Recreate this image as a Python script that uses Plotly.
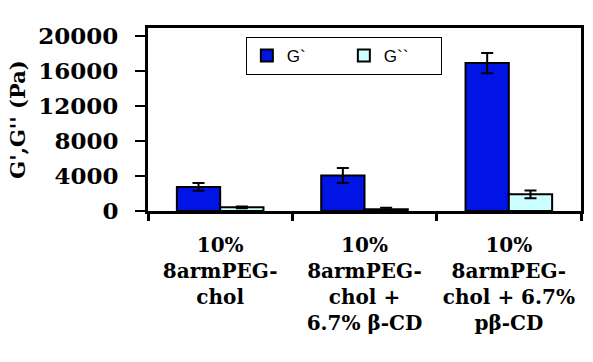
import plotly.graph_objects as go

categories = ["10%<br>8armPEG-<br>chol<br> ", "10%<br>8armPEG-<br>chol +<br>6.7% β-CD", "10%<br>8armPEG-<br>chol + 6.7%<br>pβ-CD"]
g1_values = [2750, 4050, 16900]
g1_errors = [450, 850, 1150]
g2_values = [420, 200, 1900]
g2_errors = [100, 180, 430]
series_names = ["G`", "G``"]
y_ticks = [0, 4000, 8000, 12000, 16000, 20000]

fig = go.Figure()
fig.add_trace(go.Bar(
    x=categories, y=g1_values, name=series_names[0],
    marker=dict(color="#0014E6", line=dict(color="black", width=2)),
    error_y=dict(type="data", array=g1_errors, color="black", thickness=2, width=6),
))
fig.add_trace(go.Bar(
    x=categories, y=g2_values, name=series_names[1],
    marker=dict(color="#CCFFFF", line=dict(color="black", width=2)),
    error_y=dict(type="data", array=g2_errors, color="black", thickness=2, width=6),
))

serif = "DejaVu Serif"
fig.update_layout(
    width=593, height=362,
    margin=dict(l=148, r=12, t=28, b=151, autoexpand=False),
    paper_bgcolor="white", plot_bgcolor="white",
    font=dict(family=serif, color="black"),
    barmode="group", bargap=0.4, bargroupgap=0,
    showlegend=True,
    legend=dict(
        orientation="h", x=0.226, y=0.951, xanchor="left", yanchor="top",
        bordercolor="black", borderwidth=1, bgcolor="white",
        font=dict(family="Liberation Sans", size=17, color="black", weight="normal"),
        entrywidth=52,
    ),
)
fig.update_xaxes(
    type="category", tickson="boundaries", automargin=False, tickangle=0,
    showline=True, linecolor="black", linewidth=3, mirror=True,
    ticks="outside", ticklen=7, tickwidth=2.5, tickcolor="black",
    ticklabelstandoff=14,
    tickfont=dict(family=serif, size=20, color="black", weight=700),
    showgrid=False,
)
fig.update_yaxes(
    range=[0, 20914], tickvals=y_ticks, ticktext=[str(v) for v in y_ticks],
    automargin=False,
    showline=True, linecolor="black", linewidth=3, mirror=True,
    ticks="outside", ticklen=10, tickwidth=1.5, tickcolor="black",
    ticklabelstandoff=12,
    tickfont=dict(family=serif, size=23, color="black", weight=700),
    showgrid=False, zeroline=False,
    title=dict(text="G',G'' (Pa)", font=dict(family=serif, size=21, color="black", weight=700), standoff=8),
)

fig.write_html("out.html", post_script="document.body.style.margin='0';",
               config={"displayModeBar": False})
